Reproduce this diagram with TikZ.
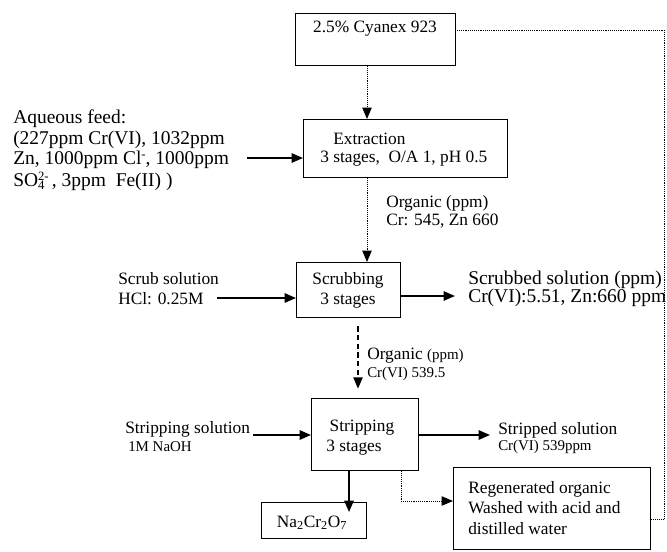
\documentclass[tikz,border=0pt]{standalone}
\usepackage{fontspec}
\setmainfont{Liberation Serif}
\usetikzlibrary{arrows.meta}
\newcommand{\smallidx}[1]{{\fontsize{9.5}{9.5}\selectfont #1}}
\begin{document}
\begin{tikzpicture}[x=0.75pt,y=-0.75pt,
  box/.style={draw, line width=1.1pt, rectangle, inner sep=0pt, anchor=north west},
  nt/.style={inner sep=0pt, font=\fontsize{13}{15}\selectfont},
  lt/.style={inner sep=0pt, font=\fontsize{14.6}{16}\selectfont},
  st/.style={inner sep=0pt, font=\fontsize{11.2}{13}\selectfont},
  arr/.style={-{Triangle[length=8.5pt,width=7pt]}, line width=1.3pt},
  dotarr/.style={-{Triangle[length=8.5pt,width=7pt]}, line width=0.7pt, dash pattern=on 0.7pt off 0.7pt},
  dotline/.style={line width=0.7pt, dash pattern=on 0.7pt off 0.7pt},
  dasharr/.style={-{Triangle[length=8.5pt,width=7pt]}, line width=1pt, dash pattern=on 4pt off 2.5pt}]
\useasboundingbox (0,0) rectangle (667,551);
% boxes
\node[box, minimum width=120pt, minimum height=39pt] (cyanex) at (295,13) {};
\node[box, minimum width=153pt, minimum height=43.5pt] (extract) at (303,119) {};
\node[box, minimum width=78pt, minimum height=41.25pt] (scrub) at (296,262) {};
\node[box, minimum width=80.25pt, minimum height=54pt] (strip) at (311,398) {};
\node[box, minimum width=78.75pt, minimum height=27pt] (na) at (261,502) {};
\node[box, minimum width=147.75pt, minimum height=61.5pt] (regen) at (453,467) {};
% box texts
\node[nt, anchor=base] (tcy) at (375,32) {2.5\% Cyanex 923};
\node[nt, anchor=base west] (tex1) at (333,144) {Extraction};
\node[nt, anchor=base west] (tex2) at (320,162) {3 stages,\ \ O/A 1, pH 0.5};
\node[nt, anchor=base] (tsc1) at (348,284) {Scrubbing};
\node[nt, anchor=base] (tsc2) at (348,304) {3 stages};
\node[nt, anchor=base] (tst1) at (362,431) {Stripping};
\node[nt, anchor=base west] (tst2) at (326,451) {3 stages};
\node[nt, anchor=base] (tna) at (312,527) {Na\textsubscript{2}Cr\textsubscript{2}O\textsubscript{7}};
\node[nt, anchor=base west] (trg1) at (468,493) {Regenerated organic};
\node[nt, anchor=base west] (trg2) at (468,513) {Washed with acid and};
\node[nt, anchor=base west] (trg3) at (468,534) {distilled water};
% side texts
\node[lt, anchor=base west] (fd1) at (13,123.5) {Aqueous feed:};
\node[lt, anchor=base west] (fd2) at (13,144.5) {(227ppm Cr(VI), 1032ppm};
\node[lt, anchor=base west] (fd3) at (13,164.5) {Zn, 1000ppm Cl\raisebox{0.7ex}{\smallidx{-}}, 1000ppm};
\node[lt, anchor=base west] (fd4) at (13,186) {SO\rlap{\raisebox{-0.35ex}{\smallidx{4}}}\raisebox{0.6ex}{\smallidx{2-}}\,, 3ppm\ \ Fe(II) )};
\node[nt, anchor=base west] (org1) at (386,207) {Organic (ppm)};
\node[nt, anchor=base west] (org2) at (386,225) {Cr: 545, Zn 660};
\node[nt, anchor=base west] (sol1) at (118,284) {Scrub solution};
\node[nt, anchor=base west] (sol2) at (118,304) {HCl: 0.25M};
\node[lt, anchor=base west] (scd1) at (468,284.5) {Scrubbed solution (ppm)};
\node[lt, anchor=base west] (scd2) at (468,302.5) {Cr(VI):5.51, Zn:660 ppm};
\node[nt, anchor=base west] (og1) at (367,359) {Organic {\fontsize{11.2}{13}\selectfont (ppm)}};
\node[st, anchor=base west] (og2) at (367,377) {Cr(VI) 539.5};
\node[nt, anchor=base west] (ss1) at (125,433) {Stripping solution};
\node[st, anchor=base west] (ss2) at (128,451) {1M NaOH};
\node[nt, anchor=base west] (sd1) at (498,434) {Stripped solution};
\node[st, anchor=base west] (sd2) at (498,450) {Cr(VI) 539ppm};
% helper coordinates
\coordinate (xa) at (367,0);
\coordinate (xb) at (358,0);
\coordinate (xc) at (349,0);
\coordinate (xd) at (401,0);
\coordinate (feedout) at (247,158);
\coordinate (scrubin) at (217,298);
\coordinate (scrubout) at (455,296);
\coordinate (stripin) at (253,435);
\coordinate (stripout) at (490,435);
\coordinate (natip) at (349,512);
\coordinate (yregin) at (0,501);
\coordinate (yregout) at (0,519);
\coordinate (loopx) at (664,0);
\coordinate (loopy) at (0,30);
% connectors
\draw[dotarr] (cyanex.south -| xa) -- (extract.north -| xa);
\draw[dotarr] (extract.south -| xa) -- (scrub.north -| xa);
\draw[dasharr, shorten <=6pt, shorten >=7pt] (scrub.south -| xb) -- (strip.north -| xb);
\draw[arr] (feedout) -- (feedout -| extract.west);
\draw[arr] (scrubin) -- (scrubin -| scrub.west);
\draw[arr] (scrubout -| scrub.east) -- (scrubout);
\draw[arr] (stripin) -- (stripin -| strip.west);
\draw[arr] (stripout -| strip.east) -- (stripout);
\draw[arr] (strip.south -| xc) -- (natip);
\draw[dotarr] (strip.south -| xd) |- (regen.west |- yregin);
\draw[dotline] (regen.east |- yregout) -| (loopx |- loopy) -- (cyanex.east |- loopy);
\end{tikzpicture}
\end{document}
